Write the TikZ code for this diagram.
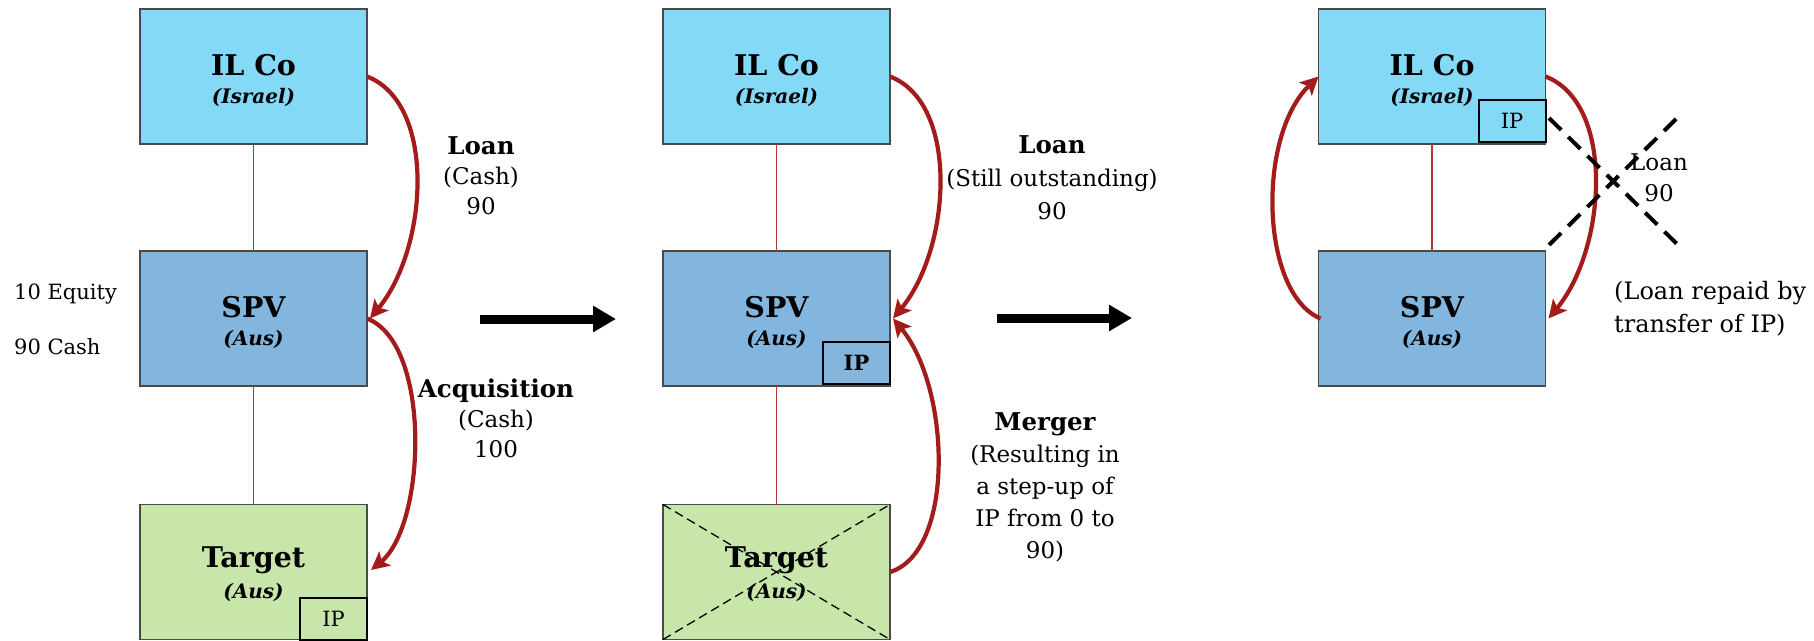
\documentclass[tikz,border=0pt]{standalone}
\usepackage{fontspec}
\setmainfont{DejaVu Serif}
\usetikzlibrary{arrows.meta,calc}

\definecolor{ilcofill}{HTML}{83D9F6}
\definecolor{spvfill}{HTML}{83B6DE}
\definecolor{tgtfill}{HTML}{C9E6AA}
\definecolor{boxline}{HTML}{4A4A4A}
\definecolor{flow}{HTML}{A31B1B}
\definecolor{linkred}{HTML}{B53A36}

% bold heading line inside a flow label
\newcommand{\lblhead}[1]{{\fontsize{24.5}{30}\selectfont\bfseries #1}}

\begin{document}
\begin{tikzpicture}[x=1pt,y=-1pt,
  entity/.style={draw=boxline,line width=1.5pt,minimum width=227pt,minimum height=135pt,inner sep=0pt,outer sep=0pt},
  ilco/.style={entity,fill=ilcofill},
  spv/.style={entity,fill=spvfill},
  tgt/.style={entity,fill=tgtfill},
  ipbox/.style={draw=black,line width=2pt,minimum width=67pt,minimum height=42pt,inner sep=0pt,outer sep=0pt,font=\fontsize{21}{24}\selectfont},
  title/.style={font=\fontsize{28.5}{32}\selectfont\bfseries,inner sep=0pt},
  sub/.style={font=\fontsize{20}{24}\selectfont\bfseries\itshape,inner sep=0pt},
  lbl/.style={font=\fontsize{23}{30}\selectfont,align=center,inner sep=0pt},
  side/.style={font=\fontsize{21}{24}\selectfont,inner sep=0pt,anchor=west},
  owns/.style={draw=linkred,line width=1.6pt},
  flowarrow/.style={draw=flow,line width=4.2pt,-{Stealth[length=18pt,width=18pt,inset=4pt]}},
  stage/.style={line width=9pt,-{Triangle[length=23pt,width=25pt]}},
  strike/.style={dash pattern=on 9pt off 5pt,line width=1.3pt},
  void/.style={dash pattern=on 17pt off 10pt,line width=4pt},
]
\useasboundingbox (0,0) rectangle (1814,640);

% ---------- Step 1: acquisition ----------
\node[ilco] (ilco1) at (253.5,76.5) {};
\node[spv]  (spv1)  at (253.5,318.5) {};
\node[tgt]  (tgt1)  at (253.5,572) {};
\node[ipbox,anchor=south east] (ip1) at (tgt1.south east) {IP};
\draw[owns] (ilco1) -- (spv1);
\draw[owns] (spv1) -- (tgt1);

\node[title] (ilco1t) at ([yshift=-56pt]ilco1.north) {IL Co};
\node[sub]   (ilco1s) at ([yshift=-88pt]ilco1.north) {(Israel)};
\node[title] (spv1t)  at ([yshift=-56pt]spv1.north) {SPV};
\node[sub]   (spv1s)  at ([yshift=-88pt]spv1.north) {(Aus)};
\node[title] (tgt1t)  at ([yshift=-56pt]tgt1.north) {Target};
\node[sub]   (tgt1s)  at ([yshift=-88pt]tgt1.north) {(Aus)};

\draw[flowarrow] (ilco1.east) .. controls +(70,27) and +(58,-70) .. ([xshift=3pt]spv1.east);
\draw[flowarrow] (spv1.east) .. controls +(65,25) and +(55,-45) .. ([xshift=4pt,yshift=2pt]tgt1.east);

\node[lbl] (loan1) at (481,176) {\lblhead{Loan}\\(Cash)\\90};
\node[lbl] (acq1)  at (496,418) {\lblhead{Acquisition}\\(Cash)\\100};
\node[side] (eq1)   at (14,294) {10 Equity};
\node[side] (cash1) at (14,347) {90 Cash};

\coordinate (s1a) at (480,319);
\coordinate (s1b) at (616,319);
\draw[stage] (s1a) -- (s1b);

% ---------- Step 2: merger ----------
\node[ilco] (ilco2) at (776.5,76.5) {};
\node[spv]  (spv2)  at (776.5,318.5) {};
\node[tgt]  (tgt2)  at (776.5,572) {};
\node[ipbox,anchor=south east,font=\fontsize{21}{24}\selectfont\bfseries] (ip2) at ([yshift=2pt]spv2.south east) {IP};
\draw[owns] (ilco2) -- (spv2);
\draw[owns] (spv2) -- (tgt2);

\node[title] (ilco2t) at ([yshift=-56pt]ilco2.north) {IL Co};
\node[sub]   (ilco2s) at ([yshift=-88pt]ilco2.north) {(Israel)};
\node[title] (spv2t)  at ([yshift=-56pt]spv2.north) {SPV};
\node[sub]   (spv2s)  at ([yshift=-88pt]spv2.north) {(Aus)};
\node[title] (tgt2t)  at ([yshift=-56pt]tgt2.north) {Target};
\node[sub]   (tgt2s)  at ([yshift=-88pt]tgt2.north) {(Aus)};
\draw[strike] (tgt2.north west) -- (tgt2.south east);
\draw[strike] (tgt2.south west) -- (tgt2.north east);

\draw[flowarrow] (ilco2.east) .. controls +(70,27) and +(58,-70) .. ([xshift=3pt]spv2.east);
\draw[flowarrow] (tgt2.east) .. controls +(65,-20) and +(58,70) .. ([xshift=3pt]spv2.east);

\node[lbl,font=\fontsize{23}{33}\selectfont] (loan2) at (1052,178) {\lblhead{Loan}\\(Still outstanding)\\90};
\node[lbl,font=\fontsize{23}{32}\selectfont] (merge2) at (1045,487) {\lblhead{Merger}\\(Resulting in\\a step-up of\\IP from 0 to\\90)};

\coordinate (s2a) at (997,318);
\coordinate (s2b) at (1132,318);
\draw[stage] (s2a) -- (s2b);

% ---------- Step 3: repayment ----------
\node[ilco] (ilco3) at (1432,76.5) {};
\node[spv]  (spv3)  at (1432,318.5) {};
\node[ipbox,anchor=south east] (ip3) at ([yshift=2pt]ilco3.south east) {IP};
\draw[owns] (ilco3) -- (spv3);

\node[title] (ilco3t) at ([yshift=-56pt]ilco3.north) {IL Co};
\node[sub]   (ilco3s) at ([yshift=-88pt]ilco3.north) {(Israel)};
\node[title] (spv3t)  at ([yshift=-56pt]spv3.north) {SPV};
\node[sub]   (spv3s)  at ([yshift=-88pt]spv3.north) {(Aus)};

\draw[flowarrow] ([xshift=2pt]spv3.west) .. controls +(-60,-25) and +(-62,60) .. (ilco3.west);
\draw[flowarrow] (ilco3.east) .. controls +(70,27) and +(58,-70) .. ([xshift=3pt]spv3.east);

\node[lbl,font=\fontsize{23}{31}\selectfont] (loan3) at (1659,177.5) {Loan\\90};
\node[lbl,align=left,anchor=west,font=\fontsize{24}{33}\selectfont] (repaid3) at (1614,309) {(Loan repaid by\\transfer of IP)};

\coordinate (x1a) at (1549,118);
\coordinate (x1b) at (1678,245);
\coordinate (x2a) at (1549,245);
\coordinate (x2b) at (1678,117);
\draw[void] (x1a) -- (x1b);
\draw[void] (x2a) -- (x2b);
\end{tikzpicture}
\end{document}
